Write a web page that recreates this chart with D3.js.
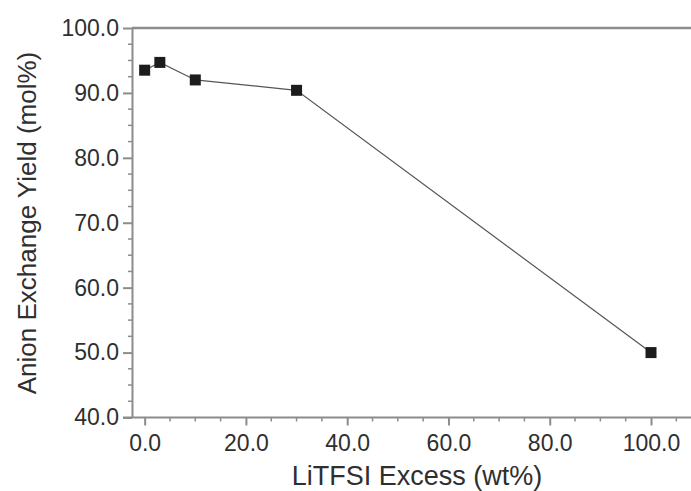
<!DOCTYPE html>
<html lang="en">
<head>
<meta charset="UTF-8">
<title>Anion exchange yield</title>
<script src="https://d3js.org/d3.v7.min.js"></script>
<style>
  body { margin: 0; background: #fff; }
  svg text { font-family: "Liberation Sans", Arial, sans-serif; fill: #2f2f2f; }
  .axis path, .axis line { stroke: #8c8c8c; }
</style>
</head>
<body>
<svg id="chart" width="691" height="491"></svg>
<script>
  // values
  const excess = [0, 3, 10, 30, 100];           // LiTFSI excess, wt%
  const yieldMol = [93.5, 94.7, 92.0, 90.4, 50.0]; // anion exchange yield, mol%
  const xTicks = [0, 20, 40, 60, 80, 100];
  const yTicks = [40, 50, 60, 70, 80, 90, 100];

  const svg = d3.select("#chart");
  const mLeft = 132, mRight = 691, mTop = 28, mBottom = 417.5;

  const x = d3.scaleLinear().domain([-2.5, 107.9]).range([mLeft, mRight]);
  const y = d3.scaleLinear().domain([40, 100]).range([mBottom, mTop]);

  // minor ticks first
  const xMinor = d3.range(5, 110, 5).filter(v => v % 20 !== 0);
  const yMinor = d3.range(42.5, 100, 2.5).filter(v => v % 10 !== 0);

  svg.append("g").attr("class", "axis")
    .selectAll("line").data(xMinor).join("line")
    .attr("x1", d => x(d)).attr("x2", d => x(d))
    .attr("y1", mBottom).attr("y2", mBottom + 4)
    .attr("stroke-width", 1.5);

  svg.append("g").attr("class", "axis")
    .selectAll("line").data(yMinor).join("line")
    .attr("x1", mLeft).attr("x2", mLeft - 4)
    .attr("y1", d => y(d)).attr("y2", d => y(d))
    .attr("stroke-width", 1.5);

  // x axis
  const gx = svg.append("g").attr("class", "axis")
    .attr("transform", `translate(0,${mBottom})`)
    .call(d3.axisBottom(x).tickValues(xTicks).tickFormat(d3.format(".1f"))
      .tickSizeInner(8).tickSizeOuter(0).tickPadding(9));
  gx.select(".domain").attr("stroke-width", 2)
    .attr("d", `M${mLeft - 9},0H${mRight}`);
  gx.selectAll(".tick line").attr("stroke-width", 2);
  gx.selectAll("text").style("font-size", "23px").attr("fill", "#2f2f2f");

  // y axis
  const gy = svg.append("g").attr("class", "axis")
    .attr("transform", `translate(${mLeft},0)`)
    .call(d3.axisLeft(y).tickValues(yTicks).tickFormat(d3.format(".1f"))
      .tickSizeInner(9).tickSizeOuter(0).tickPadding(4));
  gy.select(".domain").attr("stroke-width", 2);
  gy.selectAll(".tick line").attr("stroke-width", 2);
  gy.selectAll("text").style("font-size", "23px").attr("fill", "#2f2f2f");

  // top frame line
  svg.append("line")
    .attr("x1", mLeft).attr("x2", mRight)
    .attr("y1", y(100)).attr("y2", y(100))
    .attr("stroke", "#8c8c8c").attr("stroke-width", 2.5);

  // axis titles
  svg.append("text")
    .attr("x", 417).attr("y", 485)
    .attr("text-anchor", "middle")
    .style("font-size", "27px")
    .text("LiTFSI Excess (wt%)");

  svg.append("text")
    .attr("transform", "translate(36,223) rotate(-90)")
    .attr("text-anchor", "middle")
    .style("font-size", "26px")
    .text("Anion Exchange Yield (mol%)");

  // data line and markers
  const pts = excess.map((v, i) => [v, yieldMol[i]]);
  svg.append("path")
    .datum(pts)
    .attr("fill", "none")
    .attr("stroke", "#555")
    .attr("stroke-width", 1.2)
    .attr("d", d3.line().x(d => x(d[0])).y(d => y(d[1])));

  const s = 11;
  svg.append("g")
    .selectAll("rect").data(pts).join("rect")
    .attr("x", d => x(d[0]) - s / 2)
    .attr("y", d => y(d[1]) - s / 2)
    .attr("width", s).attr("height", s)
    .attr("fill", "#1c1c1c");
</script>
</body>
</html>
